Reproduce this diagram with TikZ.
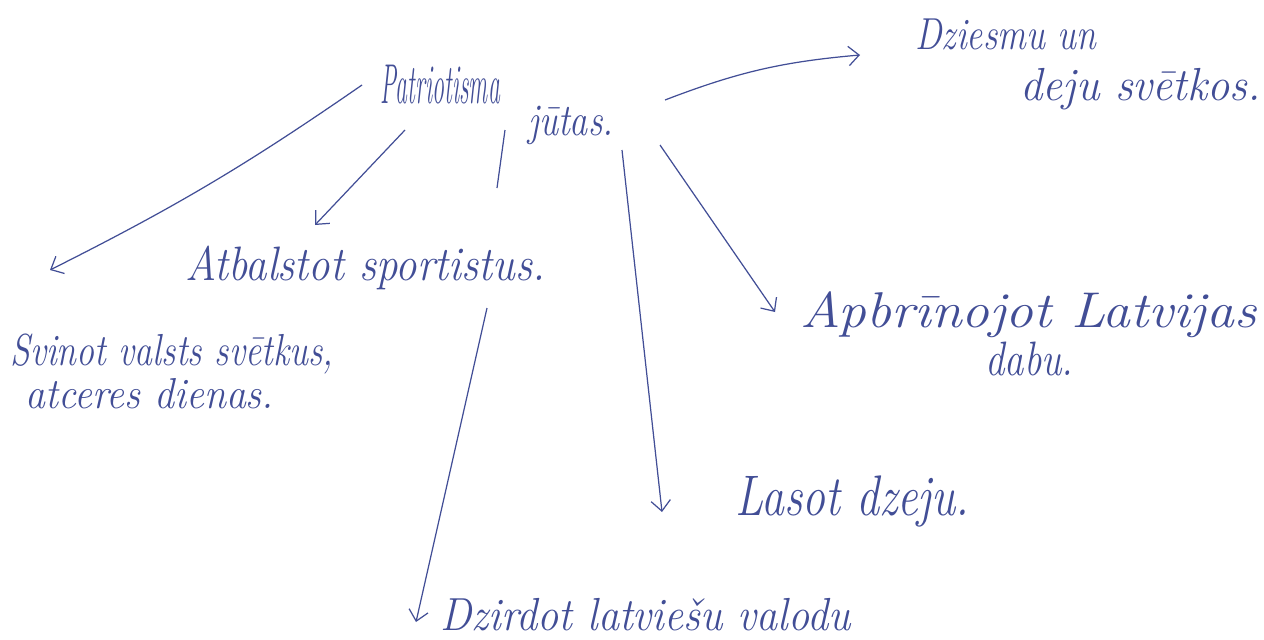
\documentclass[tikz,border=0pt]{standalone}
\usepackage{fontspec}
\usepackage{tikz}
\usetikzlibrary{arrows.meta}
\definecolor{ink}{RGB}{66,78,150}

\begin{document}
\begin{tikzpicture}[x=0.02cm, y=-0.02cm,
  hand/.style={text=ink, inner sep=0pt, anchor=base west,
    font=\fontsize{22}{26}\selectfont\itshape, xscale=0.8, transform shape},
  arr/.style={ink, line width=0.7pt, -{Straight Barb[length=6pt, width=11pt]}}]
  \useasboundingbox (0,0) rectangle (1264,639);
  % centre words
  \node[hand, font=\fontsize{32}{36}\selectfont\itshape, xscale=0.53] (patr) at (380,103) {Patriotisma};
  \node[hand, scale=1.17] (jutas) at (528,135) {jūtas.};
  % branches
  \node[hand, scale=1.16] (dz1) at (915,50) {Dziesmu un};
  \node[hand, scale=1.2, xscale=1.2] (dz2) at (1020,100) {deju svētkos.};
  \node[hand, scale=1.25, xscale=1.11] (atb) at (185,280) {Atbalstot sportistus.};
  \node[hand, scale=1.16] (svin1) at (10,365) {Svinot valsts svētkus,};
  \node[hand, scale=1.12, xscale=1.15] (svin2) at (25,408) {atceres dienas.};
  \node[hand, scale=1.3, xscale=1.38] (apb1) at (800,327) {Apbrīnojot Latvijas};
  \node[hand, scale=1.25] (apb2) at (985,375) {dabu.};
  \node[hand, scale=1.48] (las) at (735,515) {Lasot dzeju.};
  \node[hand, scale=1.2, xscale=1.14] (dzir) at (440,630) {Dzirdot latviešu valodu};
  % connectors
  \draw[arr] ([shift={(-18,-18)}]patr.base west) to[bend left=4] ([shift={(40,-95)}]svin1.base west);
  \draw[arr] ([shift={(25,27)}]patr.base west) -- ([shift={(130,-55)}]atb.base west);
  \draw[ink, line width=0.7pt] ([shift={(125,27)}]patr.base west) -- ([shift={(312,-92)}]atb.base west);
  \draw[arr] ([shift={(302,28)}]atb.base west) -- ([shift={(-24,-8)}]dzir.base west);
  \draw[arr] ([shift={(94,15)}]jutas.base west) -- ([shift={(-73,-3)}]las.base west);
  \draw[arr] ([shift={(132,10)}]jutas.base west) -- ([shift={(-25,-15)}]apb1.base west);
  \draw[arr] ([shift={(137,-35)}]jutas.base west) to[bend left=8] ([shift={(-55,5)}]dz1.base west);
\end{tikzpicture}
\end{document}
